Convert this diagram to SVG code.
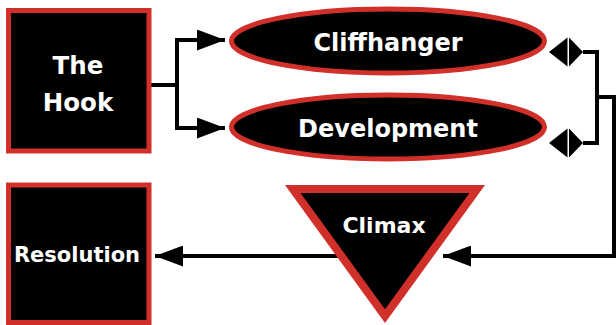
<svg xmlns="http://www.w3.org/2000/svg" width="616" height="325" viewBox="0 0 616 325">
  <style>
    .node { fill: #000000; stroke: #d1302a; stroke-width: 5; }
    .tri { fill: #000000; stroke: #d1302a; stroke-width: 8; stroke-linejoin: miter; stroke-miterlimit: 10; }
    .lbl { fill: #ffffff; font-family: "DejaVu Sans", "Liberation Sans", sans-serif; font-weight: bold; text-anchor: middle; }
    .conn { fill: none; stroke: #000000; stroke-width: 4; }
  </style>
  <defs>
    <marker id="arrow" markerUnits="userSpaceOnUse" markerWidth="28" markerHeight="21" refX="28" refY="10.5" orient="auto">
      <path d="M0,0 L28,10.5 L0,21 z" fill="#000000"/>
    </marker>
    <g id="dbl">
      <path d="M0,0 L18.5,-14.5 L18.5,14.5 z" fill="#000000"/>
      <path d="M20,-14.5 L34,0 L20,14.5 z" fill="#000000"/>
    </g>
  </defs>
  <rect width="616" height="325" fill="#ffffff"/>

  <g id="connectors">
    <path class="conn" d="M149,85 H177 V40 H225" marker-end="url(#arrow)"/>
    <path class="conn" d="M177,85 V128 H225" marker-end="url(#arrow)"/>
    <path class="conn" d="M583,52 H597 V143 H583"/>
    <path class="conn" d="M597,97 H614 V256 H443" marker-end="url(#arrow)"/>
    <path class="conn" d="M338,256 H155" marker-end="url(#arrow)"/>
    <use href="#dbl" x="549" y="52"/>
    <use href="#dbl" x="549" y="143"/>
  </g>

  <g id="hook">
    <rect class="node" x="8.5" y="10.5" width="140.5" height="140.5"/>
    <text class="lbl" x="78" y="74" font-size="24.5">The</text>
    <text class="lbl" x="78" y="111" font-size="24.5">Hook</text>
  </g>

  <g id="cliffhanger">
    <ellipse class="node" cx="388" cy="41" rx="156.5" ry="32"/>
    <text class="lbl" x="388" y="51" font-size="24">Cliffhanger</text>
  </g>

  <g id="development">
    <ellipse class="node" cx="388" cy="127" rx="156.5" ry="32"/>
    <text class="lbl" x="388" y="137" font-size="24">Development</text>
  </g>

  <g id="climax">
    <polygon class="tri" points="292.8,189 477.2,189 385,316.2"/>
    <text class="lbl" x="384" y="233" font-size="22">Climax</text>
  </g>

  <g id="resolution">
    <rect class="node" x="8.5" y="185" width="140.5" height="137.5"/>
    <text class="lbl" x="77" y="262" font-size="21">Resolution</text>
  </g>
</svg>
